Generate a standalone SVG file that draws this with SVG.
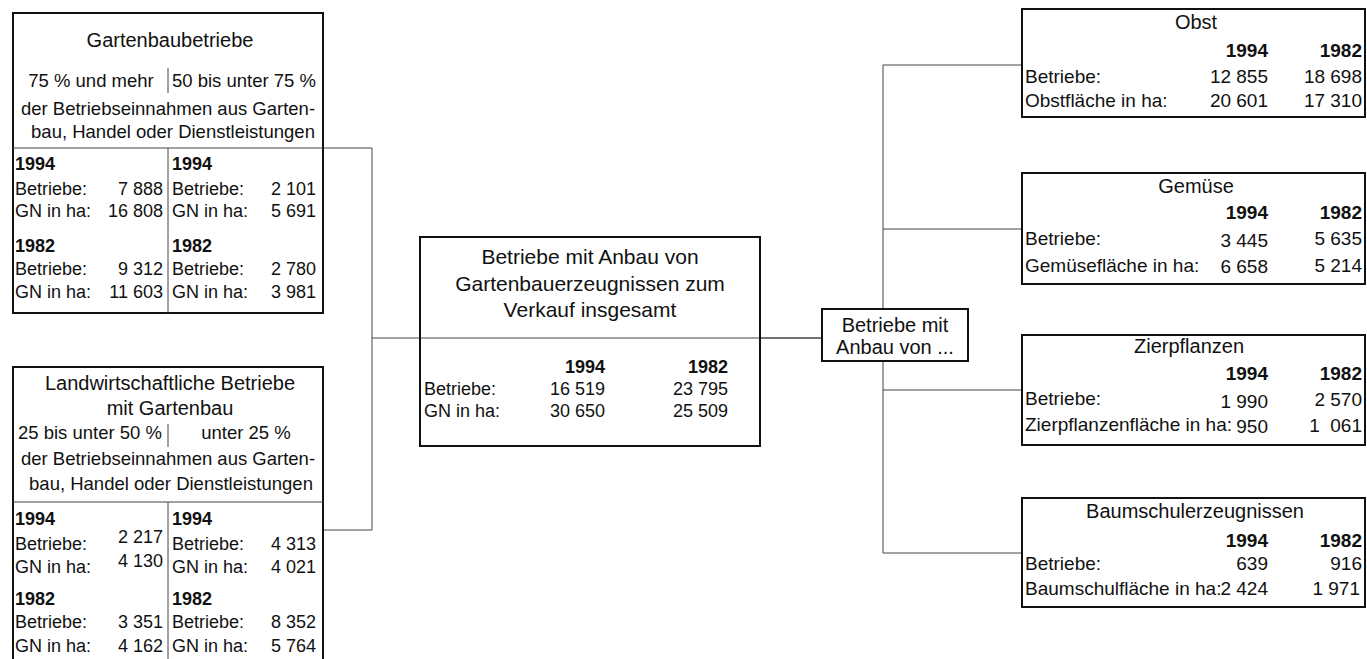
<svg xmlns="http://www.w3.org/2000/svg" width="1367" height="659" viewBox="0 0 1367 659">
<style>
text{font-family:"Liberation Sans",Arial,sans-serif;fill:#111}
.t{font-size:20px;text-anchor:middle}
.c{font-size:21px}
.s{font-size:18.5px}
.m{text-anchor:middle}
.d{font-size:18px}
.r{font-size:19px}
.b{font-weight:bold}
.e{text-anchor:end}
.box{fill:#fff;stroke:#111;stroke-width:2}
.open{fill:none;stroke:#111;stroke-width:2}
.div{stroke:#444;stroke-width:1;fill:none}
.conn{stroke:#444;stroke-width:1;fill:none}
</style>
<g id="connectors">
<path class="conn" d="M323 148H372V530H323M372 338H822M760 338H822M883 65V553M883 65H1022M883 229H1022M883 390H1022M883 553H1022"/>
</g>
<g id="gartenbaubetriebe">
<rect class="box" x="13" y="13" width="310" height="300"/>
<line class="div" x1="13" y1="148" x2="323" y2="148"/>
<line class="div" x1="168" y1="68" x2="168" y2="93"/>
<line class="div" x1="168" y1="148" x2="168" y2="313"/>
<text class="t" x="170" y="47">Gartenbaubetriebe</text>
<text class="s m" x="91" y="87">75 % und mehr</text>
<text class="s" x="172" y="87">50 bis unter 75 %</text>
<text class="s m" x="168" y="115">der Betriebseinnahmen aus Garten-</text>
<text class="s m" x="173" y="138">bau, Handel oder Dienstleistungen</text>
<text class="d b" x="15" y="170">1994</text>
<text class="d" x="15" y="195">Betriebe:</text>
<text class="d e" x="163" y="195">7 888</text>
<text class="d" x="15" y="217">GN in ha:</text>
<text class="d e" x="163" y="217">16 808</text>
<text class="d b" x="15" y="252">1982</text>
<text class="d" x="15" y="275">Betriebe:</text>
<text class="d e" x="163" y="275">9 312</text>
<text class="d" x="15" y="298">GN in ha:</text>
<text class="d e" x="163" y="298">11 603</text>
<text class="d b" x="172" y="170">1994</text>
<text class="d" x="172" y="195">Betriebe:</text>
<text class="d e" x="316" y="195">2 101</text>
<text class="d" x="172" y="217">GN in ha:</text>
<text class="d e" x="316" y="217">5 691</text>
<text class="d b" x="172" y="252">1982</text>
<text class="d" x="172" y="275">Betriebe:</text>
<text class="d e" x="316" y="275">2 780</text>
<text class="d" x="172" y="298">GN in ha:</text>
<text class="d e" x="316" y="298">3 981</text>
</g>
<g id="landwirtschaftliche-betriebe">
<rect class="box" x="13" y="367" width="310" height="300"/>
<line class="div" x1="13" y1="502" x2="323" y2="502"/>
<line class="div" x1="168" y1="424" x2="168" y2="447"/>
<line class="div" x1="168" y1="502" x2="168" y2="660"/>
<text class="t" x="170" y="390">Landwirtschaftliche Betriebe</text>
<text class="t" x="170" y="415">mit Gartenbau</text>
<text class="s" x="18" y="439">25 bis unter 50 %</text>
<text class="s m" x="246" y="439">unter 25 %</text>
<text class="s m" x="168" y="465">der Betriebseinnahmen aus Garten-</text>
<text class="s m" x="171" y="490">bau, Handel oder Dienstleistungen</text>
<text class="d b" x="15" y="525">1994</text>
<text class="d" x="15" y="550">Betriebe:</text>
<text class="d e" x="163" y="543">2 217</text>
<text class="d" x="15" y="573">GN in ha:</text>
<text class="d e" x="163" y="567">4 130</text>
<text class="d b" x="15" y="605">1982</text>
<text class="d" x="15" y="628">Betriebe:</text>
<text class="d e" x="163" y="628">3 351</text>
<text class="d" x="15" y="652">GN in ha:</text>
<text class="d e" x="163" y="652">4 162</text>
<text class="d b" x="172" y="525">1994</text>
<text class="d" x="172" y="550">Betriebe:</text>
<text class="d e" x="316" y="550">4 313</text>
<text class="d" x="172" y="573">GN in ha:</text>
<text class="d e" x="316" y="573">4 021</text>
<text class="d b" x="172" y="605">1982</text>
<text class="d" x="172" y="628">Betriebe:</text>
<text class="d e" x="316" y="628">8 352</text>
<text class="d" x="172" y="652">GN in ha:</text>
<text class="d e" x="316" y="652">5 764</text>
</g>
<g id="insgesamt">
<rect class="open" x="420" y="237" width="340" height="209"/>
<text class="t c" x="590" y="264">Betriebe mit Anbau von</text>
<text class="t c" x="590" y="291">Gartenbauerzeugnissen zum</text>
<text class="t c" x="590" y="317">Verkauf insgesamt</text>
<text class="d b e" x="605" y="373">1994</text>
<text class="d b e" x="728" y="373">1982</text>
<text class="d" x="424" y="395">Betriebe:</text>
<text class="d e" x="605" y="395">16 519</text>
<text class="d e" x="728" y="395">23 795</text>
<text class="d" x="424" y="417">GN in ha:</text>
<text class="d e" x="605" y="417">30 650</text>
<text class="d e" x="728" y="417">25 509</text>
</g>
<g id="anbau-von">
<rect class="box" x="822" y="309" width="146" height="52"/>
<text class="t" x="895" y="332">Betriebe mit</text>
<text class="t" x="895" y="354">Anbau von ...</text>
</g>
<g id="obst">
<rect class="box" x="1022" y="9" width="343" height="108"/>
<text class="t" x="1196" y="29">Obst</text>
<text class="r b e" x="1268" y="57">1994</text>
<text class="r b e" x="1362" y="57">1982</text>
<text class="r" x="1025" y="83">Betriebe:</text>
<text class="r e" x="1268" y="83">12 855</text>
<text class="r e" x="1362" y="83">18 698</text>
<text class="r" x="1025" y="107">Obstfläche in ha:</text>
<text class="r e" x="1268" y="107">20 601</text>
<text class="r e" x="1362" y="107">17 310</text>
</g>
<g id="gemuese">
<rect class="box" x="1022" y="173" width="343" height="111"/>
<text class="t" x="1196" y="193">Gemüse</text>
<text class="r b e" x="1268" y="219">1994</text>
<text class="r b e" x="1362" y="219">1982</text>
<text class="r" x="1025" y="245">Betriebe:</text>
<text class="r e" x="1268" y="247">3 445</text>
<text class="r e" x="1362" y="245">5 635</text>
<text class="r" x="1025" y="272">Gemüsefläche in ha:</text>
<text class="r e" x="1268" y="273">6 658</text>
<text class="r e" x="1362" y="272">5 214</text>
</g>
<g id="zierpflanzen">
<rect class="box" x="1022" y="335" width="343" height="110"/>
<text class="t" x="1189" y="353">Zierpflanzen</text>
<text class="r b e" x="1268" y="380">1994</text>
<text class="r b e" x="1362" y="380">1982</text>
<text class="r" x="1025" y="405">Betriebe:</text>
<text class="r e" x="1268" y="408">1 990</text>
<text class="r e" x="1362" y="406">2 570</text>
<text class="r" x="1025" y="431">Zierpflanzenfläche in ha:</text>
<text class="r e" x="1268" y="433">950</text>
<text class="r e" x="1362" y="432" xml:space="preserve">1  061</text>
</g>
<g id="baumschulerzeugnissen">
<rect class="box" x="1022" y="498" width="343" height="109"/>
<text class="t" x="1195" y="518">Baumschulerzeugnissen</text>
<text class="r b e" x="1268" y="547">1994</text>
<text class="r b e" x="1362" y="547">1982</text>
<text class="r" x="1025" y="570">Betriebe:</text>
<text class="r e" x="1268" y="570">639</text>
<text class="r e" x="1362" y="570">916</text>
<text class="r" x="1025" y="595">Baumschulfläche in ha:</text>
<text class="r e" x="1268" y="595">2 424</text>
<text class="r e" x="1360" y="595">1 971</text>
</g>
</svg>
